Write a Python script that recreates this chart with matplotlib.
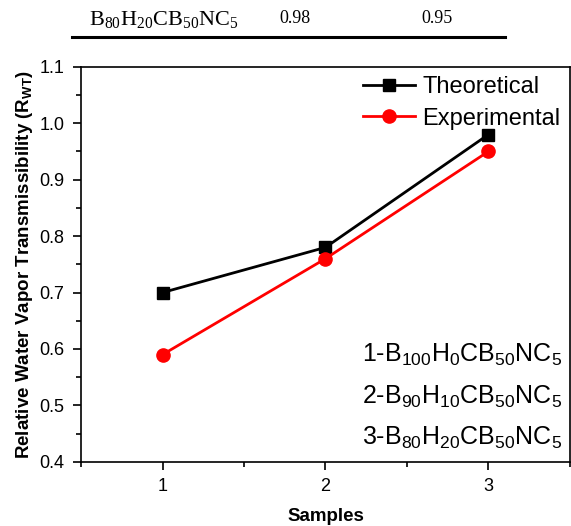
import matplotlib
matplotlib.use("Agg")
import matplotlib.pyplot as plt
from matplotlib.ticker import MultipleLocator
from matplotlib.lines import Line2D

plt.rcParams['font.family'] = ['Liberation Sans', 'DejaVu Sans']
plt.rcParams['mathtext.fontset'] = 'custom'
plt.rcParams['mathtext.rm'] = 'Liberation Sans'
plt.rcParams['mathtext.it'] = 'Liberation Sans:italic'
plt.rcParams['mathtext.bf'] = 'Liberation Sans:bold'

# data
samples = [1, 2, 3]
theoretical = [0.70, 0.78, 0.98]
experimental = [0.59, 0.76, 0.95]
sample_names = [r'1-B$_{100}$H$_0$CB$_{50}$NC$_5$',
                r'2-B$_{90}$H$_{10}$CB$_{50}$NC$_5$',
                r'3-B$_{80}$H$_{20}$CB$_{50}$NC$_5$']
table_row = [r'B$\mathregular{_{80}}$H$\mathregular{_{20}}$CB$\mathregular{_{50}}$NC$\mathregular{_5}$', '0.98', '0.95']

fig = plt.figure(figsize=(5.71, 5.26), dpi=100)
ax = fig.add_axes([0.142, 0.122, 0.856, 0.751])

ax.plot(samples, theoretical, color='black', lw=2, marker='s', ms=8.5, label='Theoretical')
ax.plot(samples, experimental, color='red', lw=2, marker='o', ms=9.5, label='Experimental')

ax.set_xlim(0.5, 3.5)
ax.set_ylim(0.4, 1.1)
ax.xaxis.set_major_locator(MultipleLocator(1))
ax.xaxis.set_minor_locator(MultipleLocator(0.5))
ax.yaxis.set_major_locator(MultipleLocator(0.1))
ax.yaxis.set_minor_locator(MultipleLocator(0.05))
ax.yaxis.set_major_formatter(matplotlib.ticker.FormatStrFormatter('%.1f'))
ax.tick_params(which='major', direction='out', length=6, width=1.2, labelsize=13, pad=6)
ax.tick_params(which='minor', direction='out', length=3.5, width=1.2)
ax.tick_params(top=False, right=False)
for s in ax.spines.values():
    s.set_linewidth(1.2)

ax.set_xlabel('Samples', fontsize=13.5, fontweight='bold', labelpad=9)
ax.set_ylabel(r'Relative Water Vapor Transmissibility (R$_{\mathbf{WT}}$)', fontsize=13.5,
              fontweight='bold', labelpad=3)

ax.legend(loc='upper right', frameon=False, fontsize=17, handlelength=2.2,
          handletextpad=0.3, borderaxespad=0.0, labelspacing=0.4)

for i, name in enumerate(sample_names):
    ax.text(0.985, 0.27 - i * 0.105, name, transform=ax.transAxes, ha='right',
            va='center', fontsize=18)

# table row above the chart
fig.text(0.155, 0.962, table_row[0], family='Liberation Serif', fontsize=16, va='center')
fig.text(0.517, 0.965, table_row[1], family='Liberation Serif', fontsize=13, ha='center', va='center')
fig.text(0.765, 0.965, table_row[2], family='Liberation Serif', fontsize=13, ha='center', va='center')
fig.add_artist(Line2D([0.126, 0.885], [0.929, 0.929], color='black', lw=2.2))

fig.savefig('out.png', dpi=100)
